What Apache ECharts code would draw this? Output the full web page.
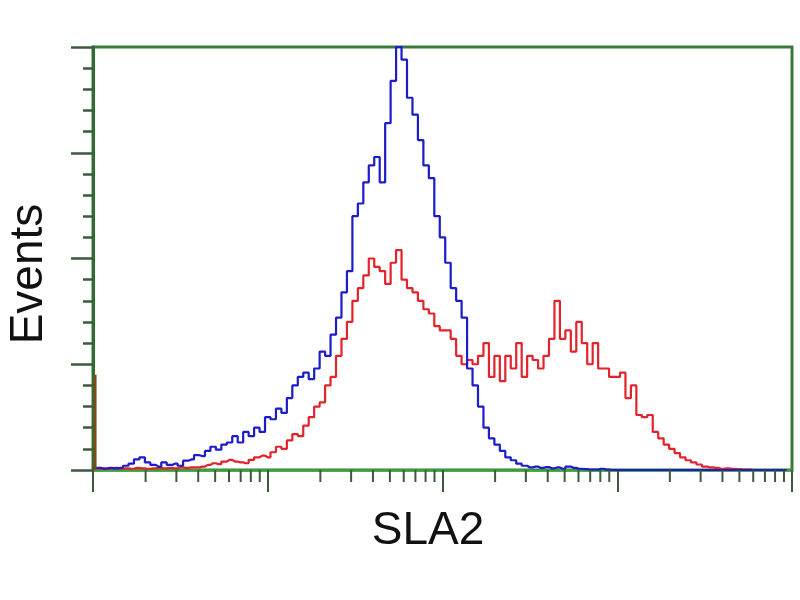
<!DOCTYPE html>
<html><head><meta charset="utf-8">
<script src="https://cdn.jsdelivr.net/npm/echarts@6/dist/echarts.min.js"></script>
<style>html,body{margin:0;padding:0;background:#fff}#c{width:800px;height:600px}</style>
</head><body><div id="c"></div>
<script>
// channel bins (0..1024 over 4 log decades)
const channels = [0,8,16,24,32,40,48,56,64,72,80,88,96,104,112,120,128,136,144,152,160,168,176,184,192,200,208,216,224,232,240,248,256,264,272,280,288,296,304,312,320,328,336,344,352,360,368,376,384,392,400,408,416,424,432,440,448,456,464,472,480,488,496,504,512,520,528,536,544,552,560,568,576,584,592,600,608,616,624,632,640,648,656,664,672,680,688,696,704,712,720,728,736,744,752,760,768,776,784,792,800,808,816,824,832,840,848,856,864,872,880,888,896,904,912,920,928,936,944,952,960,968,976,984,992,1000,1008,1016];
// control (blue) counts
const blueCounts = [0.5,0.5,0.3,0.5,0.4,0.5,1.0,1.5,2.5,3.0,1.8,1.2,0.8,1.8,1.2,1.5,1.0,2.2,2.5,3.5,3.3,4.5,5.5,4.8,6.0,6.5,8.0,6.5,9.0,8.0,10.0,9.0,12.5,12.0,14.5,13.5,17,20,22,23,21.5,24,28,27,32,36,42,47,60,63,68,72,74,68,82,92,100,97,88,84,78,72,69,60,55,49,43,40,36,24,20,15,10,7.5,6,4.5,3,2.3,1.5,1.0,0.6,0.8,0.5,0.7,0.4,0.6,0.3,0.8,0.5,0.3,0.2,0.1,0.1,0.3,0.1,0,0,0,0,0,0,0,0,0,0,0,0,0,0,0,0,0,0,0,0,0,0,0,0,0,0,0,0,0,0,0,0,0];
// SLA2 (red) counts
const redCounts = [0.3,0.3,0.4,0.3,0.5,0.3,0.4,0.3,0.5,0.4,0.3,0.4,0.5,0.4,0.5,0.4,0.6,0.5,0.6,0.6,0.8,1.2,1.6,1.4,2.0,2.4,2.0,1.8,1.6,2.4,3.0,3.4,3.0,4.2,5.5,5.0,7.0,8.5,8.0,10.5,12.5,15,16,20,22,27,31,35,40,43,46,50,48,47,44,49,52,45,43,42,40,38,37,34,33,33,31,27,25,26,25,27,30,22,27,21,27,24,30,22,27,26,24,27,31,40,31,33,28,35,30,25,30,24,24,22,22,23,17,20,13,12.5,13,9,7.5,6,5,4,3,2.3,1.8,1.3,0.8,0.6,0.5,0.3,0.4,0.3,0.2,0.1,0.1,0,0,0,0,0,0,0];
// spike in first channels
const spikeChannel = 3;
const spikeCount = 22.5;
// log minor tick multipliers and decade starts (in channels)
const decadeStarts = [0,256,512,768];
const minorMultipliers = [2,3,4,5,6,7,8,9];
const xAxisName = 'SLA2';
const yAxisName = 'Events';

const blueData = channels.map((c,i)=>[c, blueCounts[i]]);
const redData = channels.map((c,i)=>[c, redCounts[i]]);
const minorTicks = [];
decadeStarts.forEach(d => minorMultipliers.forEach(m => minorTicks.push([d + 256*Math.log10(m), 0])));

const chart = echarts.init(document.getElementById('c'), null, {renderer:'canvas'});
chart.setOption({
  animation:false,
  backgroundColor:'#fff',
  grid:{left:93,right:8,top:47,bottom:130,show:true,borderColor:'#3b7a3b',borderWidth:3,backgroundColor:'transparent'},
  xAxis:{type:'value',min:0,max:1024,interval:256,
    axisLine:{show:true,lineStyle:{color:'#3aa23a',width:2.5}},
    axisTick:{show:true,inside:false,length:22,lineStyle:{color:'#3d5a3d',width:2}},
    axisLabel:{show:false},splitLine:{show:false}},
  yAxis:{type:'value',min:0,max:100,interval:25,
    axisLine:{show:true,lineStyle:{color:'#2f6e2f',width:3}},
    axisTick:{show:true,inside:false,length:22,lineStyle:{color:'#3d5a3d',width:2.5}},
    minorTick:{show:true,splitNumber:5,length:10,lineStyle:{color:'#3d5a3d',width:2.5}},
    axisLabel:{show:false},splitLine:{show:false}},
  series:[
    {type:'line',data:redData,step:'middle',symbol:'none',lineStyle:{color:'#e3232b',width:2.2},z:3},
    {type:'line',data:blueData,step:'middle',symbol:'none',lineStyle:{color:'#1c1cc8',width:2.2},z:4},
    {type:'line',data:[[spikeChannel,0],[spikeChannel,spikeCount]],symbol:'none',lineStyle:{color:'#7a4a18',width:3},z:5},
    {type:'custom',data:minorTicks,clip:false,z:6,
      renderItem:function(params,api){
        const p = api.coord([api.value(0),0]);
        return {type:'line',shape:{x1:p[0],y1:p[1],x2:p[0],y2:p[1]+12},style:{stroke:'#3d5a3d',lineWidth:2}};
      }}
  ],
  graphic:[
    {type:'text',x:428,y:531,style:{text:xAxisName,font:'46px "Liberation Sans", Arial, sans-serif',fill:'#111',align:'center',verticalAlign:'middle'}},
    {type:'text',x:29,y:274,rotation:Math.PI/2,style:{text:yAxisName,font:'46px "Liberation Sans", Arial, sans-serif',fill:'#111',align:'center',verticalAlign:'middle'}}
  ]
});
</script></body></html>
